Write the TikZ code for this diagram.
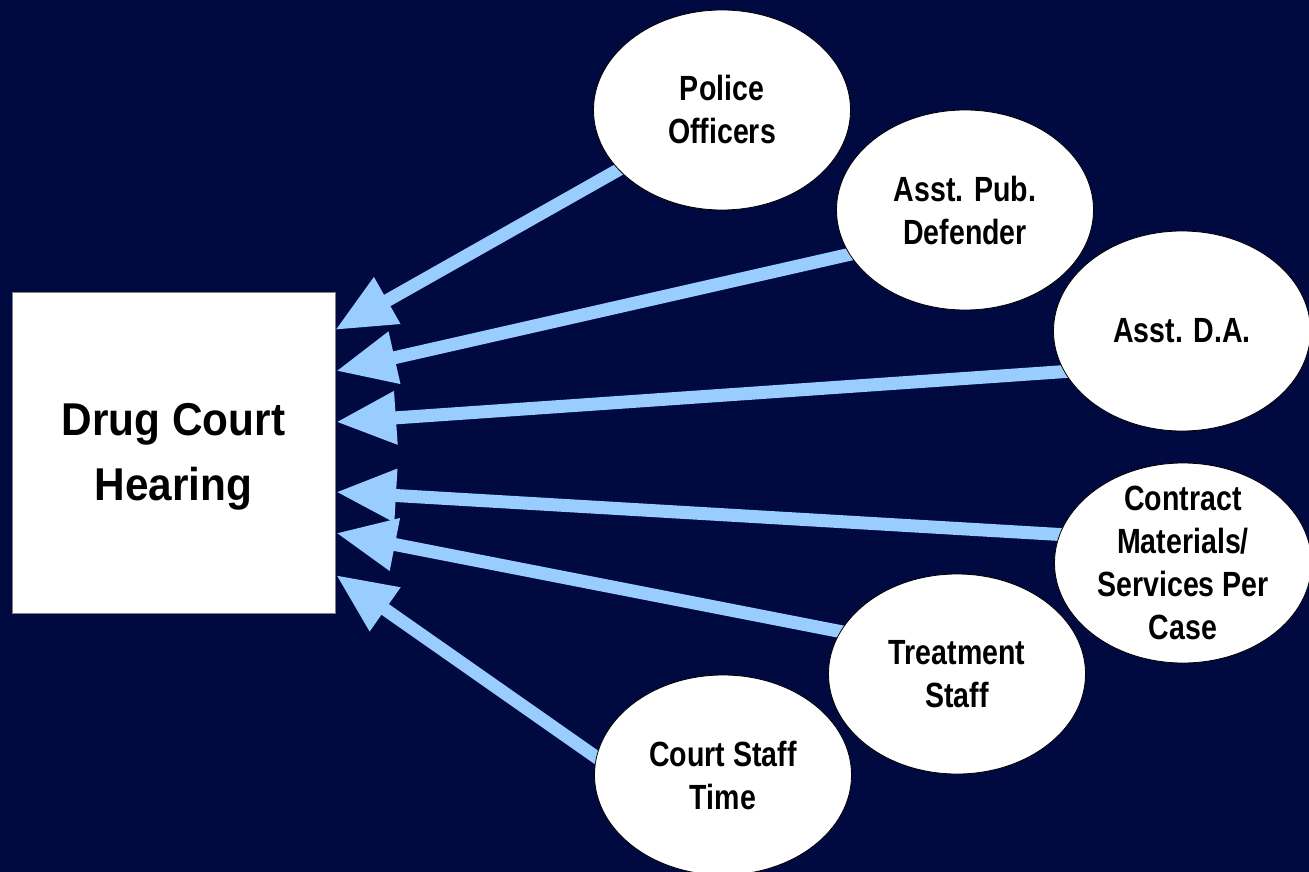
\documentclass[tikz,border=0pt]{standalone}
\usepackage{fontspec}
\newfontfamily\lblfont{Liberation Sans}[FakeStretch=0.815]
\newfontfamily\boxfont{Liberation Sans}[FakeStretch=0.92]
\usetikzlibrary{arrows.meta,shapes.geometric,backgrounds}
\definecolor{bgnavy}{RGB}{0,9,64}
\definecolor{arrowblue}{RGB}{153,204,255}
\begin{document}
\begin{tikzpicture}[x=1pt,y=-1pt,
  ell/.style={ellipse, draw=black, line width=0.8pt, fill=white,
    minimum width=257pt, minimum height=200pt, inner sep=0pt},
  lbl/.style={font=\lblfont\bfseries\fontsize{35}{43}\selectfont,
    align=center, text=black, inner sep=0pt},
  hearingbox/.style={draw=gray, line width=0.8pt, fill=white,
    minimum width=323pt, minimum height=321pt, inner sep=0pt},
  hearinglbl/.style={font=\boxfont\bfseries\fontsize{46}{65}\selectfont,
    align=center, text=black, inner sep=0pt, yshift=-4pt},
  feed/.style={draw=arrowblue, line width=13pt,
    -{Triangle[length=60pt,width=50pt]}, shorten <=-12pt},
]
\useasboundingbox (0,0) rectangle (1309,872);

\node[hearingbox, label={[hearinglbl]center:Drug Court\\Hearing}] (hearing) at (173.5,452.5) {};

\node[ell, label={[lbl, yshift=1pt]center:Police\\Officers}] (police) at (722,110) {};
\node[ell, label={[lbl]center:Asst. Pub.\\Defender}] (pub) at (965,210) {};
\node[ell, label={[lbl]center:Asst. D.A.}] (da) at (1182,331) {};
\node[ell, label={[lbl]center:Contract\\Materials/\\Services Per\\Case}] (contract) at (1183,563) {};
\node[ell, label={[lbl]center:Treatment\\Staff}] (treatment) at (957,674) {};
\node[ell, label={[lbl]center:Court Staff\\Time}] (court) at (723,775) {};

\coordinate (t1) at (335,330);
\coordinate (t2) at (336,371);
\coordinate (t3) at (336,422);
\coordinate (t4) at (336,492);
\coordinate (t5) at (336,533);
\coordinate (t6) at (336,575);

\begin{pgfonlayer}{background}
\fill[bgnavy] (0,0) rectangle (1309,872);
\draw[feed] (police.210) -- (t1);
\draw[feed] (pub.201) -- (t2);
\draw[feed] (da.199) -- (t3);
\draw[feed] (contract.167) -- (t4);
\draw[feed] (treatment.160) -- (t5);
\draw[feed] (court.172) -- (t6);
\end{pgfonlayer}
\end{tikzpicture}
\end{document}
